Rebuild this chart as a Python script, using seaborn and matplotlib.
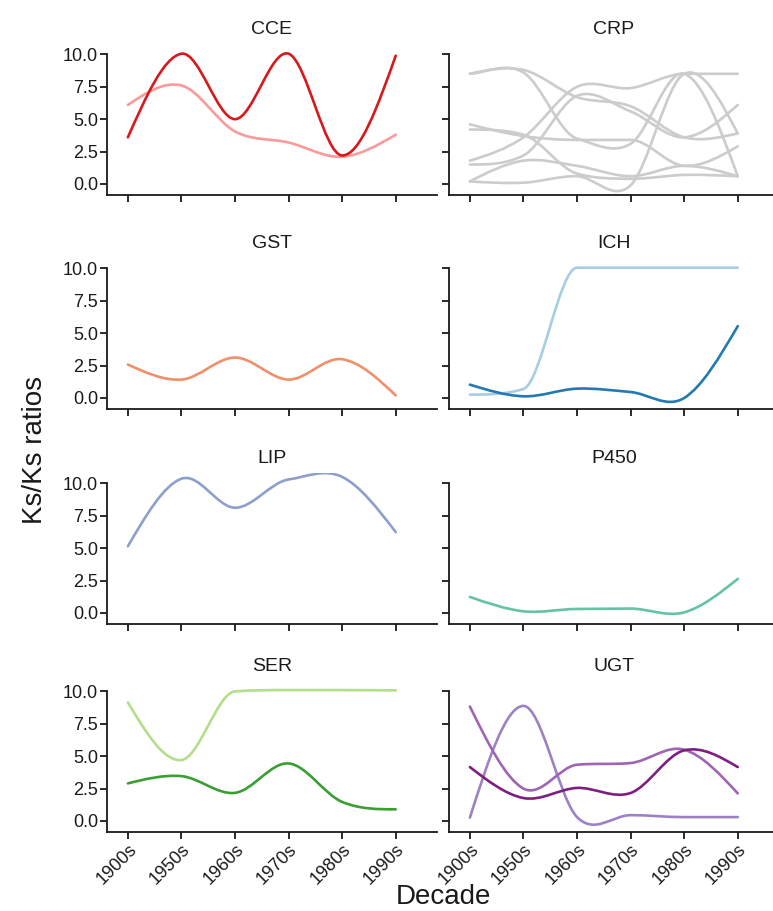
import numpy as np
import pandas as pd
import matplotlib
matplotlib.use("Agg")
import matplotlib.pyplot as plt
import seaborn as sns
from matplotlib.path import Path
from matplotlib.patches import PathPatch

# ---------------- data ----------------
decades = ["1900s", "1950s", "1960s", "1970s", "1980s", "1990s"]
families = ["CCE", "CRP", "GST", "ICH", "LIP", "P450", "SER", "UGT"]

cce_red = [3.6, 10.05, 5.0, 10.05, 2.2, 9.9]
cce_pink = [6.1, 7.6, 4.05, 3.2, 2.1, 3.8]

crp_1 = [8.5, 8.8, 6.7, 6.0, 3.6, 3.9]
crp_2 = [8.5, 8.6, 3.5, 3.1, 8.5, 0.6]
crp_3 = [4.6, 3.7, 3.4, 3.4, 1.4, 2.9]
crp_4 = [4.2, 3.8, 0.8, 0.4, 0.7, 0.6]
crp_5 = [1.8, 3.6, 7.5, 7.4, 8.5, 8.5]
crp_6 = [1.5, 2.2, 6.8, 5.6, 3.6, 6.1]
crp_7 = [0.2, 1.8, 1.4, 0.6, 1.4, 0.6]
crp_8 = [0.2, 0.1, 0.6, -0.1, 8.5, 3.9]

gst_1 = [2.58, 1.42, 3.12, 1.42, 2.99, 0.2]

ich_light = [0.26, 0.7, 10.05, 10.05, 10.05, 10.05]
ich_dark = [1.03, 0.13, 0.72, 0.46, 0.0, 5.54]

lip_1 = [5.15, 10.36, 8.12, 10.3, 10.5, 6.24]

p450_1 = [1.24, 0.13, 0.31, 0.34, 0.05, 2.63]

ser_light = [9.15, 4.7, 10.0, 10.1, 10.1, 10.08]
ser_dark = [2.9, 3.46, 2.17, 4.44, 1.47, 0.9]

ugt_a = [0.26, 8.88, 0.3, 0.45, 0.3, 0.3]
ugt_b = [8.83, 2.5, 4.34, 4.47, 5.5, 2.13]
ugt_c = [4.16, 1.77, 2.55, 2.16, 5.45, 4.16]

grey = "#cccccc"
series_list = [
    ("CCE", "cce_pink", cce_pink, "#fb9a99"),
    ("CCE", "cce_red", cce_red, "#d7191c"),
    ("CRP", "crp_1", crp_1, grey),
    ("CRP", "crp_2", crp_2, grey),
    ("CRP", "crp_3", crp_3, grey),
    ("CRP", "crp_4", crp_4, grey),
    ("CRP", "crp_5", crp_5, grey),
    ("CRP", "crp_6", crp_6, grey),
    ("CRP", "crp_7", crp_7, grey),
    ("CRP", "crp_8", crp_8, grey),
    ("GST", "gst_1", gst_1, "#f0906a"),
    ("ICH", "ich_light", ich_light, "#a6cee3"),
    ("ICH", "ich_dark", ich_dark, "#2479b0"),
    ("LIP", "lip_1", lip_1, "#8da0cb"),
    ("P450", "p450_1", p450_1, "#66c2a5"),
    ("SER", "ser_light", ser_light, "#b2df8a"),
    ("SER", "ser_dark", ser_dark, "#3a9e33"),
    ("UGT", "ugt_a", ugt_a, "#9c82c4"),
    ("UGT", "ugt_b", ugt_b, "#a064b4"),
    ("UGT", "ugt_c", ugt_c, "#7d1f80"),
]

rows = []
for fam, sid, vals, col in series_list:
    for i, v in enumerate(vals):
        rows.append({"family": fam, "series": sid, "x": i,
                     "decade": decades[i], "value": v, "color": col})
df = pd.DataFrame(rows)


# ------------- smooth curve drawing (Bezier through data points) -------------
def _tangents(y):
    y = np.asarray(y, float)
    s = np.diff(y)
    n = len(y)
    m = np.zeros(n)
    eps = 0.05
    for i in range(1, n - 1):
        a, b = s[i - 1], s[i]
        if abs(a) < eps or abs(b) < eps:
            m[i] = 0.0
        elif a * b < 0:
            m[i] = (a + b) / 2
        else:
            t = (a + b) / 2
            lim = 3 * min(abs(a), abs(b))
            m[i] = np.sign(t) * min(abs(t), lim)
    for end, nb, sec in ((0, 1, s[0]), (n - 1, n - 2, s[-1])):
        t = (3 * sec - m[nb]) / 2
        if abs(sec) < eps or t * sec <= 0:
            t = 0.0
        elif abs(t) > 3 * abs(sec):
            t = 3 * sec
        m[end] = t
    return m


def draw_curves(data, **kws):
    ax = plt.gca()
    for sid, g in data.groupby("series", sort=False):
        g = g.sort_values("x")
        x = g["x"].to_numpy(float)
        y = g["value"].to_numpy(float)
        m = _tangents(y)
        verts = [(x[0], y[0])]
        codes = [Path.MOVETO]
        for i in range(len(x) - 1):
            h = x[i + 1] - x[i]
            verts += [(x[i] + h / 3, y[i] + m[i] * h / 3),
                      (x[i + 1] - h / 3, y[i + 1] - m[i + 1] * h / 3),
                      (x[i + 1], y[i + 1])]
            codes += [Path.CURVE4] * 3
        patch = PathPatch(Path(verts, codes), facecolor="none",
                          edgecolor=g["color"].iloc[0], lw=1.9,
                          capstyle="round", joinstyle="round")
        ax.add_patch(patch)


# ---------------- plotting ----------------
sns.set_theme(style="ticks")
plt.rcParams["font.family"] = ["Liberation Sans", "DejaVu Sans"]
ink = "#1a1a1a"
plt.rcParams["axes.edgecolor"] = ink
plt.rcParams["xtick.color"] = ink
plt.rcParams["ytick.color"] = ink
plt.rcParams["text.color"] = ink
plt.rcParams["axes.labelcolor"] = ink

g = sns.FacetGrid(df, col="family", col_wrap=2, col_order=families,
                  sharex=True, sharey=True, height=2, aspect=1.5)
g.map_dataframe(draw_curves)

fig = g.figure
fig.set_size_inches(7.73, 9.11)

W, H = 773.0, 911.0
axw = 330.0
axh = 151.0
lefts = [107.0, 449.0]
bottoms_px = [195.0, 409.0, 624.0, 832.0]

ylo, yhi = -0.85, 10.8
g.set(xlim=(-0.39, 5.77), ylim=(ylo, yhi))
g.set_titles("{col_name}", size=14, pad=7, color=ink)
g.set_axis_labels("", "")

for k, ax in enumerate(g.axes.flat):
    r, c = divmod(k, 2)
    ax.set_position([lefts[c] / W, 1 - bottoms_px[r] / H, axw / W, axh / H])
    ax.set_xticks(range(len(decades)))
    ax.set_yticks([0, 2.5, 5, 7.5, 10])
    ax.spines["top"].set_visible(False)
    ax.spines["right"].set_visible(False)
    ax.spines["left"].set_bounds(ylo, 10)
    for sp in ("left", "bottom"):
        ax.spines[sp].set_linewidth(1.3)
    ax.tick_params(axis="both", length=5, width=1.3, labelsize=13, pad=1.5,
                   labelcolor=ink)
    if c == 0:
        ax.set_yticklabels(["0.0", "2.5", "5.0", "7.5", "10.0"])
    else:
        ax.tick_params(axis="y", labelleft=False)
    if r == 3:
        ax.set_xticklabels(decades, rotation=45, ha="right",
                           rotation_mode="anchor")
    else:
        ax.tick_params(axis="x", labelbottom=False)

fig.text(443 / W, 1 - 897 / H, "Decade", ha="center", va="center",
         fontsize=20, color=ink)
fig.text(35 / W, 1 - 450 / H, "Ks/Ks ratios", ha="center", va="center",
         rotation=90, fontsize=20, color=ink)

fig.savefig("out.png", dpi=100)
